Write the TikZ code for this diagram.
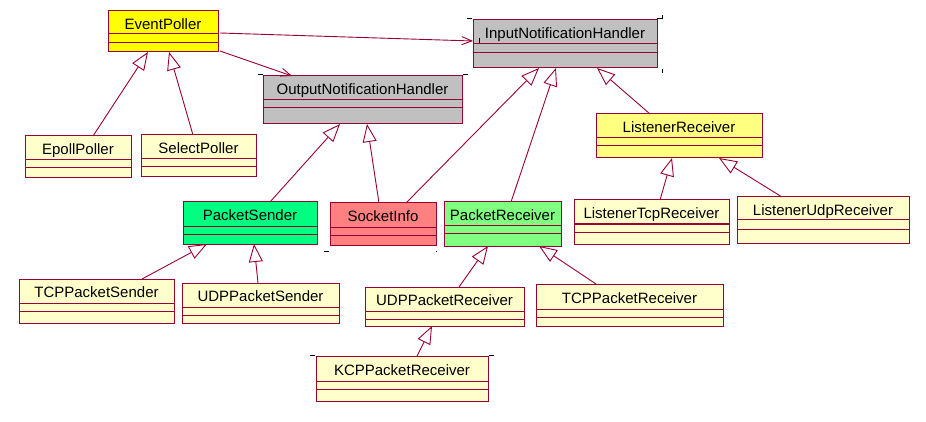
\documentclass[tikz,border=0pt]{standalone}
\usepackage{fontspec}
\setmainfont{Liberation Sans}
\usetikzlibrary{arrows.meta}
\definecolor{roseline}{RGB}{153,0,51}
\definecolor{rosegray}{RGB}{192,192,192}
\definecolor{rosecream}{RGB}{255,255,204}
\definecolor{roseyellow}{RGB}{255,255,0}
\definecolor{roselight}{RGB}{255,255,128}
\definecolor{senderfill}{RGB}{0,255,128}
\definecolor{socketfill}{RGB}{255,128,128}
\definecolor{receiverfill}{RGB}{128,255,128}
\tikzset{
  classbox/.style={draw=roseline,line width=1pt,outer sep=0pt,inner sep=0pt},
  classname/.style={font=\fontsize{15}{17}\selectfont,anchor=base,inner sep=0pt},
  compline/.style={draw=roseline,line width=1pt},
  inherit/.style={-{Triangle[open,length=18pt,width=14pt]},draw=roseline,line width=0.9pt},
  assoc/.style={-{Straight Barb[length=10pt,width=8pt]},draw=roseline,line width=0.9pt},
  handle/.style={draw=black,line width=1pt}
}
% id, name, fill, x1, y1, x2, y2, first and second compartment line
\newcommand{\umlclass}[9]{%
  \node[classbox,fill=#3,minimum width={#6-#4},minimum height={#7-#5}]
    (#1) at ({(#4+#6)/2},{(#5+#7)/2}) {};
  \draw[compline] (#4,#8) -- (#6,#8) (#4,#9) -- (#6,#9);
  \node[classname] (#1-name) at ({(#4+#6)/2},{(#5+#8)/2+6.8}) {#2};
}

\begin{document}
\begin{tikzpicture}[x=1pt,y=-1pt]
  \useasboundingbox (0,0) rectangle (926,422);

  \umlclass{eventpoller}{EventPoller}{roseyellow}{108}{11}{218}{52}{34}{43}
  \umlclass{outhandler}{OutputNotificationHandler}{rosegray}{263}{76}{462}{124}{100}{108}
  \umlclass{inhandler}{InputNotificationHandler}{rosegray}{473}{20}{657}{68}{44}{53}
  \umlclass{epoll}{EpollPoller}{rosecream}{25}{136}{131}{178}{160}{168}
  \umlclass{select}{SelectPoller}{rosecream}{141}{135}{256}{177}{159}{167}
  \umlclass{sender}{PacketSender}{senderfill}{183}{202}{317}{244}{226}{234}
  \umlclass{sockinfo}{SocketInfo}{socketfill}{330}{203}{436}{245}{227}{235}
  \umlclass{receiver}{PacketReceiver}{receiverfill}{444}{202}{561}{246}{225}{233}
  \umlclass{listener}{ListenerReceiver}{roselight}{596}{114}{762}{158}{138}{146}
  \umlclass{lsntcp}{ListenerTcpReceiver}{rosecream}{574}{200}{729}{244}{224}{232}
  \umlclass{lsnudp}{ListenerUdpReceiver}{rosecream}{737}{197}{909}{243}{220}{229}
  \umlclass{tcpsender}{TCPPacketSender}{rosecream}{19}{279}{174}{323}{303}{311}
  \umlclass{udpsender}{UDPPacketSender}{rosecream}{182}{283}{339}{323}{307}{315}
  \umlclass{udprecv}{UDPPacketReceiver}{rosecream}{365}{287}{524}{326}{311}{319}
  \umlclass{tcprecv}{TCPPacketReceiver}{rosecream}{536}{284}{723}{326}{309}{317}
  \umlclass{kcprecv}{KCPPacketReceiver}{rosecream}{316}{356}{488}{401}{381}{389}

  % associations
  \draw[assoc] ([xshift=2pt,yshift=-22pt]eventpoller.north east) -- ([yshift=-21pt]inhandler.north west);
  \draw[assoc] ([xshift=2pt,yshift=-40pt]eventpoller.north east) -- ([xshift=29pt]outhandler.north west);

  % generalizations
  \draw[inherit] ([xshift=68pt]epoll.north west) -- ([xshift=40pt]eventpoller.south west);
  \draw[inherit] ([xshift=52pt]select.north west) -- ([xshift=61pt]eventpoller.south west);
  \draw[inherit] ([xshift=87pt]sender.north west) -- ([xshift=77pt]outhandler.south west);
  \draw[inherit] ([xshift=49pt]sockinfo.north west) -- ([xshift=104pt]outhandler.south west);
  \draw[inherit] ([xshift=76pt]sockinfo.north west) -- ([xshift=66pt]inhandler.south west);
  \draw[inherit] ([xshift=67pt]receiver.north west) -- ([xshift=83pt]inhandler.south west);
  \draw[inherit] ([xshift=54pt]listener.north west) -- ([xshift=124pt]inhandler.south west);
  \draw[inherit] ([xshift=86pt]lsntcp.north west) -- ([xshift=76pt]listener.south west);
  \draw[inherit] ([xshift=45pt]lsnudp.north west) -- ([xshift=123pt]listener.south west);
  \draw[inherit] ([xshift=123pt]tcpsender.north west) -- ([xshift=24pt]sender.south west);
  \draw[inherit] ([xshift=76pt]udpsender.north west) -- ([xshift=71pt]sender.south west);
  \draw[inherit] ([xshift=94pt]udprecv.north west) -- ([xshift=44pt]receiver.south west);
  \draw[inherit] ([xshift=60pt]tcprecv.north west) -- ([xshift=95pt]receiver.south west);
  \draw[inherit] ([xshift=101pt]kcprecv.north west) -- ([xshift=67pt]udprecv.south west);

  % selection handles
  \draw[handle] (258,75) -- (263,75) (463,75) -- (468,75);
  \draw[handle] (467,19) -- (472,19) (657,19) -- (662,19) -- (662,15) (662,69) -- (662,73);
  \draw[handle] (479,38) -- (479,43);
  \draw[handle] (324,251) -- (329,251) (436,251) -- (437,251);
  \draw[handle] (310,355) -- (315,355) (489,355) -- (494,355);
\end{tikzpicture}
\end{document}
